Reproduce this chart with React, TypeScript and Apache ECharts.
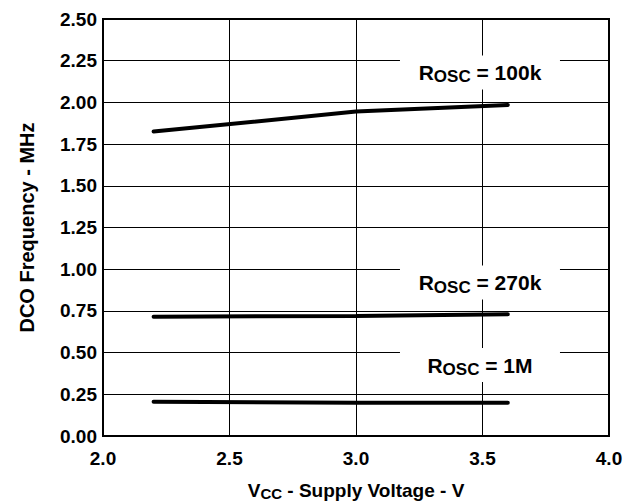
import React, { useEffect, useRef } from "react";
import * as echarts from "echarts";

const vcc = [2.2, 3.0, 3.6];
const f100k = [1.825, 1.945, 1.985];
const f270k = [0.715, 0.72, 0.73];
const f1M = [0.205, 0.2, 0.2];
const labels = [
  { name: "100k", coord: [3.49, 2.18] },
  { name: "270k", coord: [3.49, 0.92] },
  { name: "1M", coord: [3.49, 0.425] },
];

const FONT = "Liberation Sans";

export default function App() {
  const ref = useRef<HTMLDivElement>(null);
  useEffect(() => {
    if (!ref.current) return;
    const chart = echarts.init(ref.current, null, { renderer: "svg" });
    const rich = {
      r: { fontFamily: FONT, fontWeight: "bold", fontSize: 21, color: "#000", lineHeight: 26 },
      sub: { fontFamily: FONT, fontWeight: "bold", fontSize: 17, color: "#000", lineHeight: 17, verticalAlign: "bottom" },
    };
    const richName = {
      r: { fontFamily: FONT, fontWeight: "bold", fontSize: 19, color: "#000", lineHeight: 22 },
      sub: { fontFamily: FONT, fontWeight: "bold", fontSize: 15, color: "#000", lineHeight: 12, verticalAlign: "bottom" },
    };
    const mk = (data: number[], idx: number) => ({
      type: "line",
      data: vcc.map((x, i) => [x, data[i]]),
      symbol: "none",
      lineStyle: { color: "#000", width: 4, cap: "round" },
      markPoint: {
        symbol: "rect",
        symbolSize: [160, 34],
        itemStyle: { color: "#fff" },
        label: {
          show: true,
          position: "inside",
          formatter: `{r|R}{sub|OSC}{r| = ${labels[idx].name}}`,
          rich,
        },
        data: [{ coord: labels[idx].coord }],
      },
    });
    chart.setOption({
      animation: false,
      grid: {
        left: 103,
        right: 16,
        top: 19,
        bottom: 65,
        show: true,
        borderColor: "#000",
        borderWidth: 2,
        containLabel: false,
        outerBoundsMode: "none",
      },
      xAxis: {
        type: "value",
        min: 2,
        max: 4,
        interval: 0.5,
        axisLine: { lineStyle: { color: "#000", width: 2 } },
        axisTick: { show: false },
        splitLine: { lineStyle: { color: "#000", width: 1 } },
        axisLabel: {
          color: "#000",
          fontFamily: FONT,
          fontWeight: "bold",
          fontSize: 19,
          margin: 13,
          formatter: (v: number) => v.toFixed(1),
        },
        name: "{r|V}{sub|CC}{r| - Supply Voltage - V}",
        nameLocation: "middle",
        nameGap: 54,
        nameTextStyle: { rich: richName, verticalAlign: "middle" },
      },
      yAxis: {
        type: "value",
        min: 0,
        max: 2.5,
        interval: 0.25,
        axisLine: { show: true, lineStyle: { color: "#000", width: 2 } },
        axisTick: { show: false },
        splitLine: { lineStyle: { color: "#000", width: 1 } },
        axisLabel: {
          color: "#000",
          fontFamily: FONT,
          fontWeight: "bold",
          fontSize: 19,
          margin: 6,
          formatter: (v: number) => v.toFixed(2),
        },
        name: "DCO Frequency - MHz",
        nameLocation: "middle",
        nameGap: 66,
        nameTextStyle: { color: "#000", fontFamily: FONT, fontWeight: "bold", fontSize: 20 },
      },
      series: [mk(f100k, 0), mk(f270k, 1), mk(f1M, 2)],
    });
    return () => chart.dispose();
  }, []);
  return <div ref={ref} style={{ width: 625, height: 501, position: "absolute", left: 0, top: 0, background: "#fff" }} />;
}
